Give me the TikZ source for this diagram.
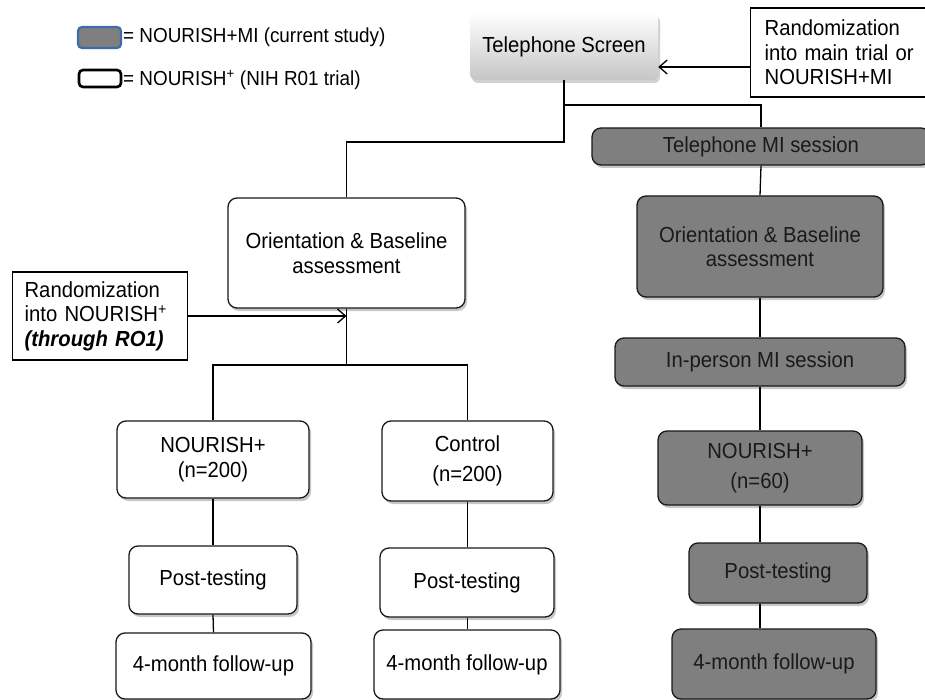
\documentclass[tikz,border=0pt]{standalone}
\usepackage{fontspec}
\setmainfont[FakeStretch=0.93]{Liberation Sans}
\usetikzlibrary{arrows.meta,shadows,calc}
\definecolor{boxgray}{HTML}{7F7F7F}
\definecolor{legblue}{HTML}{3F6CA6}
\definecolor{txtdark}{HTML}{1A1A1A}
\begin{document}
\begin{tikzpicture}[x=1pt,y=-1pt,
  font=\fontsize{21.8}{24.5}\selectfont,
  base/.style={rectangle, inner sep=0pt, align=center},
  rbox/.style={base, rounded corners=9pt, draw=black!90, line width=1.3pt,
    drop shadow={shadow xshift=2pt, shadow yshift=-3pt, fill=black, opacity=0.22}},
  wbox/.style={rbox, fill=white},
  gbox/.style={rbox, fill=boxgray, text=txtdark},
  sqbox/.style={rectangle, draw=black, line width=1.2pt, fill=white, align=left, inner ysep=0pt},
  conn/.style={draw=black, line width=1.3pt},
  arr/.style={conn, -{Straight Barb[length=8pt,width=14pt,line width=1.3pt]}},
  sz/.style 2 args={minimum width=#1pt, minimum height=#2pt}
]
\useasboundingbox[fill=white] (0,0) rectangle (925,700);

% legend
\node[base, rounded corners=4pt, fill=boxgray, draw=legblue, line width=2.2pt, sz={43}{21}] (leg1) at (99.5,37.5) {};
\node[anchor=west, inner sep=0pt, font=\fontsize{20.3}{23}\selectfont] (leg1t) at (123,37) {= NOURISH+MI (current study)};
\node[base, rounded corners=4pt, fill=white, draw=black, line width=2.6pt, sz={42}{17}] (leg2) at (100,78.5) {};
\node[anchor=west, inner sep=0pt, font=\fontsize{20.3}{23}\selectfont] (leg2t) at (123,80) {= NOURISH\textsuperscript{+} (NIH R01 trial)};

% top
\node[base, rounded corners=6pt, top color=white, bottom color=gray!45, sz={188}{67},
  drop shadow={shadow xshift=2pt, shadow yshift=-3pt, fill=black, opacity=0.18}] (scr) at (564,46.5) {Telephone Screen};
\node[sqbox, text width=152pt, inner xsep=14pt, minimum height=89pt, anchor=west] (rtop) at (750,52.5)
  {Randomization\\into main trial or\\NOURISH+MI};

% right column (current study)
\node[gbox, sz={338}{37}] (tmi) at (761,146.5) {Telephone MI session};
\node[gbox, sz={246}{101}] (ob2) at (760,246.5) {Orientation \& Baseline\\assessment};
\node[gbox, sz={290}{48}] (ipmi) at (760,362) {In-person MI session};
\node[gbox, sz={204}{74}] (n60) at (760,468) {NOURISH+\\[6pt](n=60)};
\node[gbox, sz={178}{60}] (pt3) at (778,573) {Post-testing};
\node[gbox, sz={204}{70}] (fu3) at (774,664) {4-month follow-up};

% left part (main trial)
\node[wbox, sz={237}{110}] (ob1) at (346.5,253) {Orientation \& Baseline\\assessment};
\node[sqbox, text width=151pt, inner xsep=12pt, minimum height=88pt, anchor=west] (rleft) at (12,316)
  {Randomization\\into NOURISH\textsuperscript{+}\\\textbf{\textit{(through RO1)}}};
\node[wbox, sz={192}{77}] (n200) at (213,459.5) {NOURISH+\\(n=200)};
\node[wbox, sz={171}{80}] (ctl) at (467.5,461) {Control\\[6pt](n=200)};
\node[wbox, sz={168}{68}] (pt1) at (213,580) {Post-testing};
\node[wbox, sz={174}{69}] (pt2) at (467,582.5) {Post-testing};
\node[wbox, sz={195}{66}] (fu1) at (213.5,666) {4-month follow-up};
\node[wbox, sz={186}{69}] (fu2) at (467,664.5) {4-month follow-up};

% junctions
\coordinate (j1) at (564,105);
\coordinate (j2) at (564,142);
\coordinate (j3) at (346.5,365);

% connectors
\draw[conn] (scr.south) -- (j2) -| (ob1.north);
\draw[conn] (j1) -| (tmi.north);
\draw[arr] ([yshift=-14.5pt]rtop.west) -- ([yshift=-14.5pt]rtop.west -| scr.east);
\draw[conn] (tmi.south) -- (ob2.north);
\draw[conn] (ob2.south) -- (ipmi.north);
\draw[conn] (ipmi.south) -- (n60.north);
\draw[conn] (n60.south) -- (n60.south |- pt3.north);
\draw[conn] (n60.south |- pt3.south) -- (n60.south |- fu3.north);

\draw[conn] (ob1.south) -- (j3);
\draw[conn] (n200.north) |- (j3) -| (ctl.north);
\draw[arr] (rleft.east) -- (rleft.east -| ob1.south);
\draw[conn] (n200.south) -- (pt1.north);
\draw[conn] (pt1.south) -- (fu1.north);
\draw[conn] (ctl.south) -- (ctl.south |- pt2.north);
\draw[conn] (ctl.south |- pt2.south) -- (ctl.south |- fu2.north);
\end{tikzpicture}
\end{document}
